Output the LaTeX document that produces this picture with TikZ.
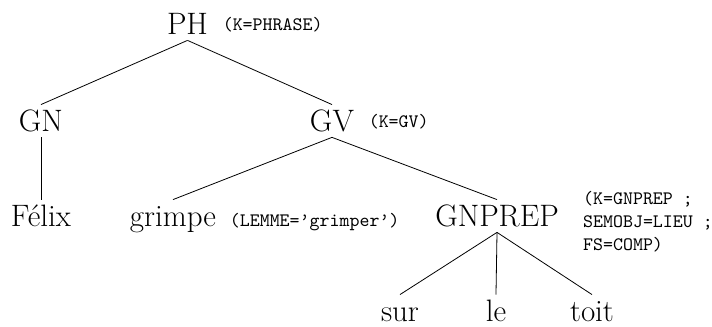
\documentclass[tikz,border=0pt]{standalone}
\usepackage{fontspec}
\usepackage{tikz}
\usetikzlibrary{positioning}
\tikzset{word/.style = {font = \fontsize{15.5}{18}\selectfont,
                        text height = 11pt, text depth = 0pt,
                        inner sep = 2.5pt, anchor = base},
         feat/.style = {font = \fontsize{9.5}{11.5}\selectfont\ttfamily,
                        inner sep = 1pt, align = left}}

\begin{document}
\begin{tikzpicture}
      \useasboundingbox (0, 0) rectangle (12.512, 5.746);
      \node [word] (ph) at (3.295, 5.131) {PH};
      \node [word] (gn) at (0.72, 3.427) {GN};
      \node [word] (gv) at (5.834, 3.427) {GV};
      \node [word] (felix) at (0.72, 1.757) {Félix};
      \node [word] (grimpe) at (3.04, 1.757) {grimpe};
      \node [word] (gnprep) at (8.734, 1.757) {GNPREP};
      \node [word] (sur) at (7.029, 0.088) {sur};
      \node [word] (le) at (8.716, 0.088) {le};
      \node [word] (toit) at (10.403, 0.088) {toit};
      % traits
      \node [feat, base right = 3.5pt of ph, yshift = 2pt] (ph-feat) {(K=PHRASE)};
      \node [feat, base right = 3.5pt of gv, yshift = 2pt] (gv-feat) {(K=GV)};
      \node [feat, base right = 3pt of grimpe] (grimpe-feat) {(LEMME=’grimper’)};
      \node [feat, base right = 8.3pt of gnprep, yshift = -12pt] (gnprep-feat)
            {(K=GNPREP ;\\SEMOBJ=LIEU ;\\FS=COMP)};
      % branches
      \draw (ph.south) -- (gn.north);
      \draw (ph.south) -- (gv.north);
      \draw (gn.south) -- (felix.north);
      \draw (gv.south) -- (grimpe.north);
      \draw (gv.south) -- (gnprep.north);
      \draw (gnprep.south) -- (sur.north);
      \draw (gnprep.south) -- (le.north);
      \draw (gnprep.south) -- (toit.north);
    \end{tikzpicture}
\end{document}
